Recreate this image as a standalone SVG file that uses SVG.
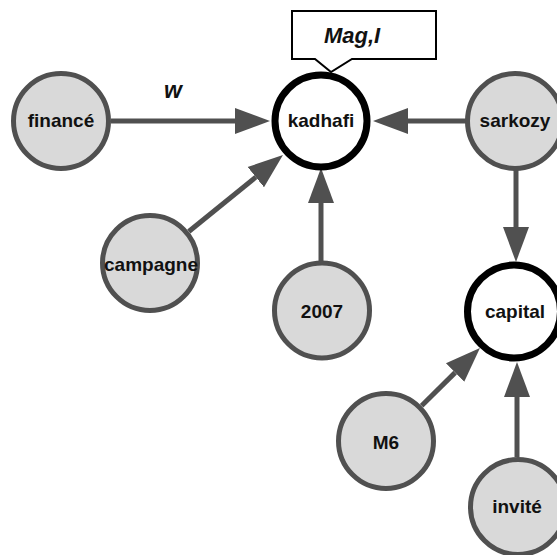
<svg xmlns="http://www.w3.org/2000/svg" width="557" height="555" viewBox="0 0 557 555">
<style>
.gray{fill:#d9d9d9;stroke:#505050;stroke-width:5}
.obs{fill:#ffffff;stroke:#000000;stroke-width:7}
.lbl{font-family:"Liberation Sans",Arial,sans-serif;font-weight:bold;font-size:19px;fill:#111;text-anchor:middle}
.it{font-family:"Liberation Sans",Arial,sans-serif;font-weight:bold;font-style:italic;fill:#111;text-anchor:middle}
.edge{stroke:#505050;stroke-width:5;fill:none;marker-end:url(#ah)}
</style>
<defs>
<marker id="ah" markerUnits="userSpaceOnUse" markerWidth="36" markerHeight="28" viewBox="0 -14 36 28" refX="0" refY="0" orient="auto">
<path d="M0,-13 L35,0 L0,13 Z" fill="#505050"/>
</marker>
</defs>
<rect width="557" height="555" fill="#ffffff"/>
<g id="connectors">
<line class="edge" x1="111" y1="121" x2="235" y2="121"/>
<line class="edge" x1="466" y1="121" x2="408" y2="121"/>
<line class="edge" x1="188.8" y1="231.5" x2="255.8" y2="177.1"/>
<line class="edge" x1="321" y1="261" x2="321" y2="203"/>
<line class="edge" x1="516" y1="168" x2="516" y2="227"/>
<line class="edge" x1="421.6" y1="405.8" x2="455.1" y2="372.6"/>
<line class="edge" x1="517" y1="457" x2="517" y2="397"/>
<text class="it" x="173" y="98" font-size="23">w</text>
</g>
<g id="callout">
<path d="M292,11 H436 V59 H352 L331,72 L315,59 H292 Z" fill="#ffffff" stroke="#000000" stroke-width="2"/>
<text class="it" x="352" y="43" font-size="22">Mag,I</text>
</g>
<g id="node-finance">
<circle class="gray" cx="61" cy="121" r="47.5"/>
<text class="lbl" x="61" y="127">financé</text>
</g>
<g id="node-kadhafi">
<circle class="obs" cx="321" cy="121" r="46"/>
<text class="lbl" x="321" y="127">kadhafi</text>
</g>
<g id="node-sarkozy">
<circle class="gray" cx="515" cy="121" r="47.5"/>
<text class="lbl" x="515" y="127">sarkozy</text>
</g>
<g id="node-campagne">
<circle class="gray" cx="150" cy="263" r="47.5"/>
<text class="lbl" x="151" y="271">campagne</text>
</g>
<g id="node-2007">
<circle class="gray" cx="322" cy="310.5" r="47.5"/>
<text class="lbl" x="322" y="318">2007</text>
</g>
<g id="node-capital">
<circle class="obs" cx="514" cy="311.5" r="46.5"/>
<text class="lbl" x="515" y="318">capital</text>
</g>
<g id="node-m6">
<circle class="gray" cx="386" cy="441" r="47.5"/>
<text class="lbl" x="386" y="449">M6</text>
</g>
<g id="node-invite">
<circle class="gray" cx="518" cy="507" r="47.5"/>
<text class="lbl" x="517" y="513">invité</text>
</g>
</svg>
